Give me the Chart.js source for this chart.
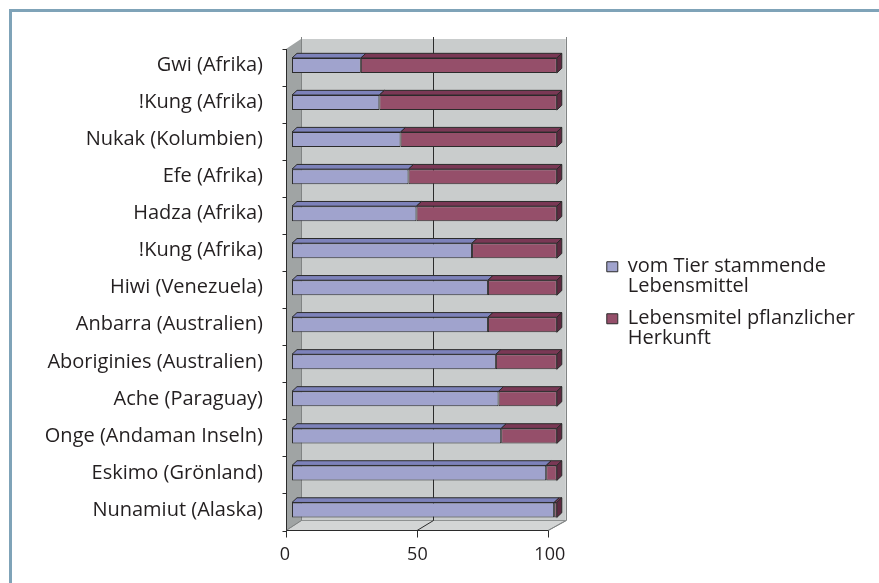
<!DOCTYPE html>
<html>
<head>
<meta charset="utf-8">
<script src="https://cdn.jsdelivr.net/npm/chart.js@4.4.1/dist/chart.umd.min.js"></script>
<style>
  html, body { margin: 0; padding: 0; background: #fff; }
  #rahmen {
    position: absolute; left: 9px; top: 9px; width: 870px; height: 574px;
    border-left: 3px solid #7fa3b8; border-top: 3px solid #7fa3b8; box-sizing: border-box;
  }
  #wrap { position: absolute; left: 0; top: 0; width: 879px; height: 583px; }
</style>
</head>
<body>
<div id="rahmen"></div>
<div id="wrap"><canvas id="grafica"></canvas></div>
<script>
// Daten
const voelker = [
  'Gwi (Afrika)', '!Kung (Afrika)', 'Nukak (Kolumbien)', 'Efe (Afrika)', 'Hadza (Afrika)',
  '!Kung (Afrika)', 'Hiwi (Venezuela)', 'Anbarra (Australien)', 'Aboriginies (Australien)',
  'Ache (Paraguay)', 'Onge (Andaman Inseln)', 'Eskimo (Grönland)', 'Nunamiut (Alaska)'
];
const tierisch   = [26, 33, 41, 44, 47, 68, 74, 74, 77, 78, 79, 96, 99];
const pflanzlich = [74, 67, 59, 56, 53, 32, 26, 26, 23, 22, 21, 4, 1];
const achsenTicks = [0, 50, 100];
const legendeZeilen = [
  ['vom Tier stammende', 'Lebensmittel'],
  ['Lebensmitel pflanzlicher', 'Herkunft']
];

// Farben
const farben = {
  blau: '#a0a3cd', blauOben: '#7d82ba',
  rot: '#954f6a', rotOben: '#7a3855', rotSeite: '#5e2a41',
  wand: '#c9cccc', seitenwand: '#a0a4a4', boden: '#d3d5d5',
  linie: '#2b2b2b', text: '#231f20'
};
const schrift = { family: '"Open Sans", sans-serif', size: 20 };

// 3D-Versatz (Pixel)
const TIEFE = { dx: 5, dy: 4.7 };
const HINTEN = { dx: 9, dy: -8 };
const VORNE = { dx: -6, dy: 2 };

function poly(ctx, pts, fill, stroke) {
  ctx.beginPath();
  ctx.moveTo(pts[0][0], pts[0][1]);
  for (let i = 1; i < pts.length; i++) ctx.lineTo(pts[i][0], pts[i][1]);
  ctx.closePath();
  if (fill) { ctx.fillStyle = fill; ctx.fill(); }
  if (stroke) { ctx.strokeStyle = stroke; ctx.lineWidth = 1; ctx.stroke(); }
}

const dreiD = {
  id: 'dreiD',
  beforeDatasetsDraw(chart) {
    const { ctx, chartArea: a, scales: { x } } = chart;
    const bx = v => x.getPixelForValue(v) + HINTEN.dx;
    const fx = v => a.left + VORNE.dx + (x.getPixelForValue(v) - a.left) * 0.99;
    const oben = a.top, unten = a.bottom;
    ctx.save();
    // Rückwand
    ctx.fillStyle = farben.wand;
    ctx.fillRect(bx(0), oben + HINTEN.dy, bx(100) - bx(0), unten - oben);
    // Seitenwand
    poly(ctx, [[fx(0), oben + VORNE.dy], [bx(0), oben + HINTEN.dy], [bx(0), unten + HINTEN.dy], [fx(0), unten + VORNE.dy]], farben.seitenwand);
    // Boden
    poly(ctx, [[fx(0), unten + VORNE.dy], [bx(0), unten + HINTEN.dy], [bx(100), unten + HINTEN.dy], [fx(100), unten + VORNE.dy]], farben.boden, '#8e9191');
    // Gitterlinien
    achsenTicks.forEach(v => {
      ctx.strokeStyle = v === 50 ? farben.linie : '#808383';
      ctx.lineWidth = 1;
      ctx.beginPath();
      ctx.moveTo(Math.round(bx(v)) + 0.5, oben + HINTEN.dy - 2);
      ctx.lineTo(Math.round(bx(v)) + 0.5, unten + HINTEN.dy);
      ctx.lineTo(fx(v), unten + VORNE.dy);
      ctx.stroke();
    });
    // Achsen vorne
    ctx.strokeStyle = farben.linie;
    ctx.beginPath();
    const x0 = Math.round(fx(0)) + 0.5;
    ctx.moveTo(x0, oben + VORNE.dy);
    ctx.lineTo(x0, unten + VORNE.dy);
    ctx.lineTo(fx(100), unten + VORNE.dy);
    ctx.stroke();
    const schritt = (unten - oben) / voelker.length;
    for (let i = 0; i <= voelker.length; i++) {
      const yy = Math.round(oben + i * schritt + VORNE.dy) + 0.5;
      ctx.beginPath(); ctx.moveTo(x0 - 4, yy); ctx.lineTo(x0, yy); ctx.stroke();
    }
    achsenTicks.forEach(v => {
      const xx = Math.round(fx(v)) + 0.5;
      ctx.beginPath(); ctx.moveTo(xx, unten + VORNE.dy); ctx.lineTo(xx, unten + VORNE.dy + 7); ctx.stroke();
    });
    ctx.restore();
  },
  afterDatasetsDraw(chart) {
    const { ctx } = chart;
    ctx.save();
    chart.data.datasets.forEach((ds, di) => {
      const meta = chart.getDatasetMeta(di);
      meta.data.forEach(el => {
        const p = el.getProps(['x', 'y', 'base', 'height'], true);
        const l = Math.min(p.x, p.base), r = Math.max(p.x, p.base);
        const t = p.y - p.height / 2, b = p.y + p.height / 2;
        if (r - l < 0.1) return;
        poly(ctx, [[l, t], [l + TIEFE.dx, t - TIEFE.dy], [r + TIEFE.dx, t - TIEFE.dy], [r, t]],
          di === 0 ? farben.blauOben : farben.rotOben, farben.linie);
        if (di === chart.data.datasets.length - 1) {
          poly(ctx, [[r, t], [r + TIEFE.dx, t - TIEFE.dy], [r + TIEFE.dx, b - TIEFE.dy], [r, b]],
            farben.rotSeite, farben.linie);
        }
      });
    });
    ctx.restore();
  }
};

// leere Achse nur als Platzhalter
const platzhalter = (richtung, groesse) => ({
  type: 'linear', position: richtung, display: true,
  grid: { display: false }, border: { display: false }, ticks: { display: false },
  afterFit: s => { if (richtung === 'top') s.height = groesse; else s.width = groesse; }
});

const ctx = document.getElementById('grafica').getContext('2d');
new Chart(ctx, {
  type: 'bar',
  data: {
    labels: voelker,
    datasets: [
      { label: 'vom Tier stammende Lebensmittel', data: tierisch, backgroundColor: farben.blau,
        borderColor: farben.linie, borderWidth: 1, borderSkipped: false },
      { label: 'Lebensmitel pflanzlicher Herkunft', data: pflanzlich, backgroundColor: farben.rot,
        borderColor: farben.linie, borderWidth: 1, borderSkipped: false }
    ]
  },
  options: {
    indexAxis: 'y',
    responsive: true,
    maintainAspectRatio: false,
    animation: false,
    layout: { padding: { top: 30, right: 14, bottom: 7.5, left: 0 } },
    datasets: { bar: { barPercentage: 0.405, categoryPercentage: 1 } },
    scales: {
      x: {
        stacked: true, min: 0, max: 100,
        afterBuildTicks: s => { s.ticks = achsenTicks.map(v => ({ value: v })); },
        grid: { display: false, drawTicks: false }, border: { display: false },
        ticks: { labelOffset: -7, padding: 15.5, font: { ...schrift, size: 18 }, color: farben.text },
        afterFit: s => { s.height = 47; }
      },
      y: {
        stacked: true,
        grid: { display: false, drawTicks: false }, border: { display: false },
        ticks: { padding: 29, font: schrift, color: farben.text, autoSkip: false },
        afterFit: s => { s.width = 292; }
      },
      x2: platzhalter('top', 17),
      y2: platzhalter('right', 38)
    },
    plugins: {
      legend: {
        position: 'right',
        maxWidth: 320,
        labels: {
          boxWidth: 11, boxHeight: 10, padding: 12, color: farben.text,
          font: { ...schrift, lineHeight: 1 },
          generateLabels(chart) {
            const items = Chart.defaults.plugins.legend.labels.generateLabels(chart);
            items.forEach((it, i) => { it.text = legendeZeilen[i]; it.lineWidth = 1; });
            return items;
          }
        }
      },
      tooltip: { enabled: false }
    }
  },
  plugins: [dreiD]
});
</script>
</body>
</html>
